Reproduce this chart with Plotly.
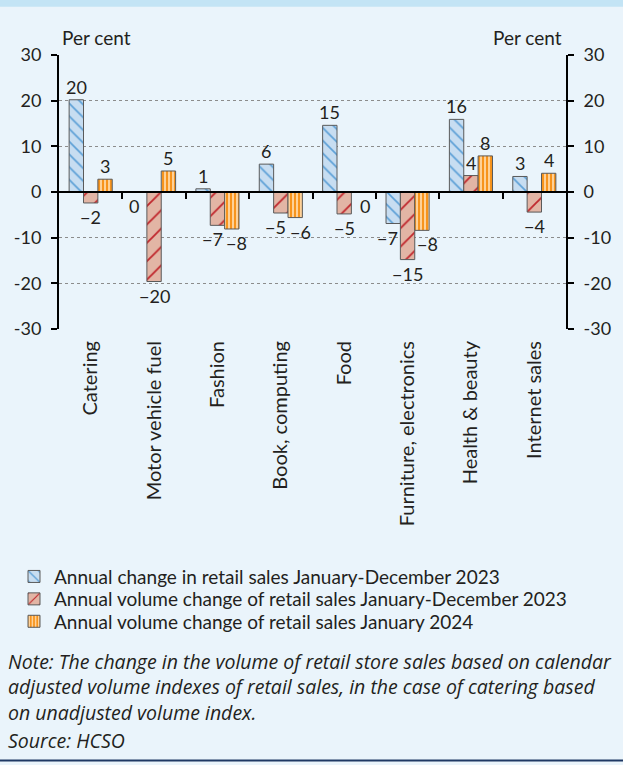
import plotly.graph_objects as go

# ---------------- data ----------------
categories = ["Catering", "Motor vehicle fuel", "Fashion", "Book, computing",
              "Food", "Furniture, electronics", "Health & beauty", "Internet sales"]
series_names = ["Annual change in retail sales January-December 2023",
                "Annual volume change of retail sales January-December 2023",
                "Annual volume change of retail sales January 2024"]
sales_2023 = [20.2, -0.1, 0.7, 6.1, 14.6, -6.9, 15.9, 3.4]
volume_2023 = [-2.4, -19.6, -7.3, -4.6, -4.8, -14.8, 3.6, -4.4]
volume_jan_2024 = [2.8, 4.6, -8.1, -5.6, -0.1, -8.4, 7.9, 4.1]
y_ticks = [-30, -20, -10, 0, 10, 20, 30]

# ---------------- layout geometry ----------------
W, H = 623, 765
PL, PR, PT, PB = 59, 566, 54.5, 329.5   # plot area in pixels
PW, PH = PR - PL, PB - PT
BARGAP = 0.32


def px_x(p):
    return (p - PL) / PW


def px_y(p):
    return (PB - p) / PH


FONT = "Lato"
NOTE_FONT = "Open Sans"
TXT = "#231f20"
BG = "#eaf4fb"


def lab(v):
    return str(int(round(v))).replace("-", "\u2212")


xs = list(range(len(categories)))
all_series = [sales_2023, volume_2023, volume_jan_2024]
styles = [
    dict(color="#c7ddf1", fg="#5b9fd6", shape="\\", size=9, sol=0.18),
    dict(color="#e2b5a5", fg="#c0272d", shape="/", size=13, sol=0.14),
    dict(color="#f7941d", fg="#ffd8a6", shape="|", size=4, sol=0.45),
]
legend_ids = ["legend", "legend2", "legend3"]

fig = go.Figure()
for name, vals, st, lg in zip(series_names, all_series, styles, legend_ids):
    fig.add_trace(go.Bar(
        x=xs, y=vals, name=name, legend=lg,
        marker=dict(color=st["color"],
                    line=dict(color="#5a5a5a", width=1),
                    pattern=dict(shape=st["shape"], fgcolor=st["fg"], bgcolor=st["color"],
                                 size=st["size"], solidity=st["sol"], fillmode="replace")),
    ))

# helper trace for the secondary axes (right axis and category separators)
fig.add_trace(go.Scatter(x=[], y=[], xaxis="x2", yaxis="y2", showlegend=False,
                         hoverinfo="skip"))

# value labels: placed at each bar end, nudged sideways when a neighbour bar/label is in the way
bar_w = (1 - BARGAP) / 3
for s, vals in enumerate(all_series):
    for c, v in enumerate(vals):
        shift = 0
        for nb, direction in ((s - 1, 1), (s + 1, -1)):
            if 0 <= nb < 3:
                w = all_series[nb][c]
                if (w < 0) == (v < 0):
                    if abs(w) > abs(v) + 1.5:
                        shift += 6 * direction
                    elif abs(abs(w) - abs(v)) <= 1.5:
                        shift += 5 * direction
        fig.add_annotation(
            x=c + (s - 1) * bar_w, y=v, xref="x", yref="y", text=lab(v),
            showarrow=False, xanchor="center", yanchor="middle",
            yshift=13 if v >= 0 else -14, xshift=shift,
            font=dict(family=FONT, size=18, color=TXT))

axis_font = dict(family=FONT, size=18, color=TXT)
legend_rows = [578, 600.5, 623]
legend_layout = {}
for lg, row in zip(legend_ids, legend_rows):
    legend_layout[lg] = dict(x=px_x(14), y=px_y(row), xanchor="left", yanchor="middle",
                             orientation="v", bgcolor="rgba(0,0,0,0)",
                             font=dict(family=FONT, size=19, color=TXT), itemwidth=30)

fig.update_layout(
    width=W, height=H,
    margin=dict(l=PL, r=W - PR, t=PT, b=H - PB, pad=0),
    paper_bgcolor=BG, plot_bgcolor=BG,
    barmode="group", bargap=BARGAP, bargroupgap=0,
    font=dict(family=FONT, size=18, color=TXT),
    showlegend=True,
    xaxis=dict(range=[-0.5, len(categories) - 0.5], tickmode="array", tickvals=xs,
               ticktext=categories, tickangle=-90, ticks="", showline=False,
               showgrid=False, zeroline=False,
               tickfont=dict(family=FONT, size=20, color=TXT), ticklabelstandoff=7),
    xaxis2=dict(range=[-0.5, len(categories) - 0.5], overlaying="x", anchor="free",
                position=0.5, side="bottom", tickmode="array",
                tickvals=[i + 0.5 for i in xs[:-1]], ticks="outside", ticklen=6,
                tickwidth=2, tickcolor="#000", showticklabels=False, showline=True,
                linecolor="#000", linewidth=2, showgrid=False, zeroline=False),
    yaxis=dict(range=[-30, 30], tickmode="array", tickvals=y_ticks,
               ticktext=[str(t) for t in y_ticks],
               ticks="outside", ticklen=6, tickwidth=2, tickcolor="#000",
               showline=True, linecolor="#000", linewidth=2,
               showgrid=True, gridcolor="#8c8c8c", griddash="dot", gridwidth=1,
               zeroline=False, tickfont=axis_font, ticklabelstandoff=6),
    yaxis2=dict(range=[-30, 30], overlaying="y", side="right", anchor="x",
                tickmode="array", tickvals=y_ticks,
                ticktext=[str(t) for t in y_ticks],
                ticks="outside", ticklen=6, tickwidth=2, tickcolor="#000",
                showline=True, linecolor="#000", linewidth=2, showgrid=False,
                zeroline=False, tickfont=axis_font, ticklabelstandoff=6),
    **legend_layout,
)

per_cent_font = dict(family=FONT, size=19, color=TXT)
fig.add_annotation(text="Per cent", x=px_x(60), y=px_y(37), xref="paper", yref="paper",
                   xanchor="left", yanchor="middle", showarrow=False, font=per_cent_font)
fig.add_annotation(text="Per cent", x=px_x(564), y=px_y(37), xref="paper", yref="paper",
                   xanchor="right", yanchor="middle", showarrow=False, font=per_cent_font)

note = ("Note: The change in the volume of retail store sales based on calendar<br>"
        "adjusted volume indexes of retail sales, in the case of catering based<br>"
        "on unadjusted volume index.")
note_font = dict(family=NOTE_FONT, size=19.5, color=TXT, style="italic")
fig.add_annotation(text=note, x=px_x(6), y=px_y(689), xref="paper", yref="paper",
                   xanchor="left", yanchor="middle", align="left", showarrow=False,
                   font=note_font)
fig.add_annotation(text="Source: HCSO", x=px_x(6), y=px_y(742), xref="paper", yref="paper",
                   xanchor="left", yanchor="middle", align="left", showarrow=False,
                   font=note_font)

# decorative frame: top band and bottom rule
fig.add_shape(type="rect", xref="paper", yref="paper", x0=px_x(0), x1=px_x(W),
              y0=px_y(6), y1=px_y(-2), fillcolor="#c3e4f5", line=dict(width=0), layer="below")
fig.add_shape(type="line", xref="paper", yref="paper", x0=px_x(0), x1=px_x(W),
              y0=px_y(762.5), y1=px_y(762.5), line=dict(color="#1f3864", width=2))

fig.write_html("out.html",
               config={"displayModeBar": False},
               post_script="document.body.style.margin='0';"
                           "document.body.style.background='#eaf4fb';")
